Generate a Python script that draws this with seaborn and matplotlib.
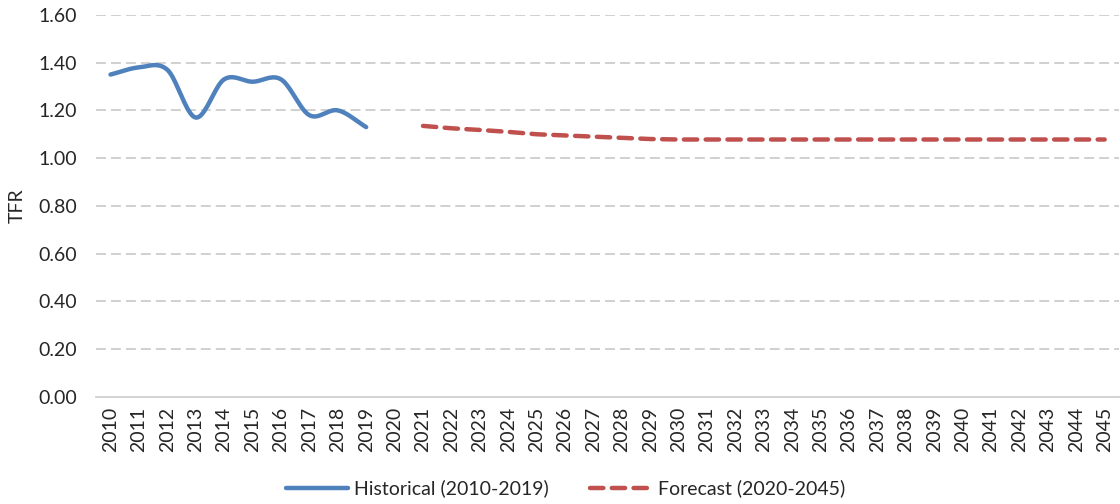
import matplotlib
matplotlib.use("Agg")
import matplotlib.pyplot as plt
import numpy as np
import pandas as pd
import seaborn as sns

# data
years = list(range(2010, 2046))
hist_years = list(range(2010, 2020))
hist_tfr = [1.35, 1.38, 1.37, 1.17, 1.33, 1.32, 1.33, 1.18, 1.20, 1.13]
fc_years = list(range(2021, 2046))
fc_tfr = [1.135, 1.125, 1.118, 1.11, 1.10, 1.095, 1.09, 1.085, 1.08, 1.078,
          1.078, 1.078, 1.078, 1.078, 1.078, 1.078, 1.078, 1.078, 1.078, 1.078,
          1.078, 1.078, 1.078, 1.078, 1.078]
y_ticks = [0.0, 0.2, 0.4, 0.6, 0.8, 1.0, 1.2, 1.4, 1.6]


def smooth(xs, ys, n=20):
    # excel style smoothed line (catmull-rom through the points)
    x = np.asarray(xs, float)
    y = np.asarray(ys, float)
    px = np.concatenate([[2 * x[0] - x[1]], x, [2 * x[-1] - x[-2]]])
    py = np.concatenate([[2 * y[0] - y[1]], y, [2 * y[-1] - y[-2]]])
    out_x, out_y = [], []
    t = np.linspace(0, 1, n, endpoint=False)
    for i in range(1, len(px) - 2):
        for p, out in ((px, out_x), (py, out_y)):
            p0, p1, p2, p3 = p[i - 1], p[i], p[i + 1], p[i + 2]
            out.extend(0.5 * ((2 * p1) + (-p0 + p2) * t
                              + (2 * p0 - 5 * p1 + 4 * p2 - p3) * t ** 2
                              + (-p0 + 3 * p1 - 3 * p2 + p3) * t ** 3))
    out_x.append(x[-1])
    out_y.append(y[-1])
    return pd.DataFrame({"year": out_x, "tfr": out_y})


sns.set_style("white")
plt.rcParams["font.family"] = ["Lato", "DejaVu Sans"]
fs = 14

fig = plt.figure(figsize=(11.2, 5.04), dpi=100)
ax = fig.add_axes([0.086, 0.2125, 0.913, 0.758])

hist_df = smooth(hist_years, hist_tfr)
fc_df = pd.DataFrame({"year": fc_years, "tfr": fc_tfr})

sns.lineplot(data=hist_df, x="year", y="tfr", ax=ax, color="#4F81BD",
             linewidth=3.2, sort=False, label="Historical (2010-2019)",
             solid_capstyle="round")
sns.lineplot(data=fc_df, x="year", y="tfr", ax=ax, color="#C0504D",
             linewidth=3.2, label="Forecast (2020-2045)")
fc_line = ax.get_lines()[-1]
fc_line.set_dashes((3.0, 1.9))
fc_line.set_dash_capstyle("round")

ax.set_xlim(2009.5, 2045.5)
ax.set_ylim(0, 1.6)
ax.set_xticks(years)
ax.set_xticklabels([str(y) for y in years], rotation=90, fontsize=fs)
ax.set_yticks(y_ticks)
ax.set_yticklabels([f"{v:.2f}" for v in y_ticks], fontsize=fs)
ax.tick_params(axis="x", length=0, pad=7)
ax.tick_params(axis="y", length=0, pad=14)
ax.set_xlabel("")
ax.set_ylabel("TFR", fontsize=fs, labelpad=9)

for v in y_ticks[1:]:
    ax.axhline(v, color="#C4C4C4", linewidth=1.1, linestyle=(0, (6.5, 3.3)),
               zorder=0)

for s in ["top", "right", "left"]:
    ax.spines[s].set_visible(False)
ax.spines["bottom"].set_color("#D0D0D0")
ax.spines["bottom"].set_linewidth(1.3)

handles, labels = ax.get_legend_handles_labels()
ax.legend_.remove()
fig.legend(handles, labels, loc="lower center", bbox_to_anchor=(0.505, -0.022),
           ncol=2, frameon=False, fontsize=fs, handlelength=3.2,
           columnspacing=2.1, handletextpad=0.3)

fig.savefig("out.png", dpi=100)
